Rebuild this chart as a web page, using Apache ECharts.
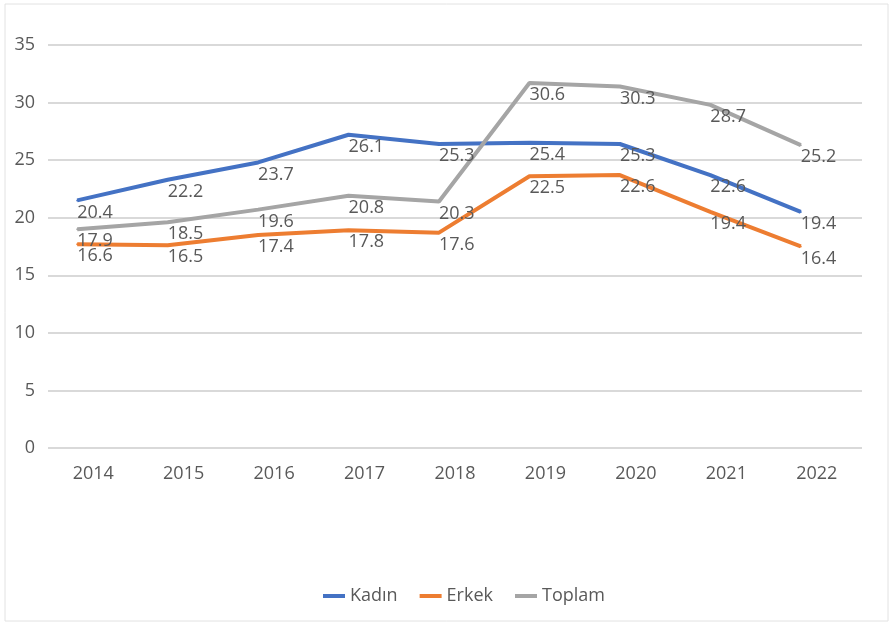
<!DOCTYPE html>
<html><head><meta charset="utf-8">
<script src="https://cdn.jsdelivr.net/npm/echarts@6/dist/echarts.min.js"></script>
<style>html,body{margin:0;padding:0;background:#fff}#c{width:893px;height:627px}</style>
</head><body><div id="c"></div>
<script>
var years = ['2014','2015','2016','2017','2018','2019','2020','2021','2022'];
var kadin  = [20.4, 22.2, 23.7, 26.1, 25.3, 25.4, 25.3, 22.6, 19.4];
var erkek  = [16.6, 16.5, 17.4, 17.8, 17.6, 22.5, 22.6, 19.4, 16.4];
var toplam = [17.9, 18.5, 19.6, 20.8, 20.3, 30.6, 30.3, 28.7, 25.2];
var yTicks = [0, 5, 10, 15, 20, 25, 30, 35];

var FONT = '"Open Sans", "Liberation Sans", sans-serif';
var TXT = '#595959';
var chart = echarts.init(document.getElementById('c'), null, {renderer:'canvas'});
function mk(name, data, color){
  return {
    name: name, type: 'line', data: data, xAxisIndex: 1, yAxisIndex: 1,
    symbol: 'circle', symbolSize: 2, showSymbol: true,
    lineStyle: {width: 4, color: color}, itemStyle: {color: color},
    label: {show: true, position: 'bottom', align: 'left', distance: 2,
      color: TXT, fontSize: 18, fontFamily: FONT,
      formatter: function(p){ return p.value.toFixed(1); }},
    emphasis: {disabled: true}, animation: false
  };
}
chart.setOption({
  animation: false,
  graphic: [{type:'rect', shape:{x:5, y:4, width:883, height:617},
    style:{fill:'none', stroke:'#e2e2e2', lineWidth:1}, silent:true}],
  grid: [
    {left: 48, right: 31, top: 45, bottom: 179},
    {left: 32, right: 47, top: 32.3, bottom: 191.7}
  ],
  xAxis: [
    {type:'category', gridIndex:0, data: years, boundaryGap:true,
     axisLine:{show:false}, axisTick:{show:false},
     axisLabel:{color:TXT, fontSize:18, fontFamily:FONT, margin:17}},
    {type:'category', gridIndex:1, data: years, boundaryGap:true, show:false}
  ],
  yAxis: [
    {type:'value', gridIndex:0, min: yTicks[0], max: yTicks[yTicks.length-1], interval: 5,
     axisLine:{show:false}, axisTick:{show:false},
     splitLine:{lineStyle:{color:'#d9d9d9', width:2}},
     axisLabel:{color:TXT, fontSize:18, fontFamily:FONT, margin:13}},
    {type:'value', gridIndex:1, min: yTicks[0], max: yTicks[yTicks.length-1], show:false, splitLine:{show:false}}
  ],
  legend: {
    top: 582, left: 318, itemWidth: 22, itemHeight: 4, itemGap: 22,
    icon: 'rect', data: ['Kadın','Erkek','Toplam'],
    textStyle: {color: TXT, fontSize: 18, fontFamily: FONT}
  },
  series: [
    mk('Kadın', kadin, '#4472C4'),
    mk('Erkek', erkek, '#ED7D31'),
    mk('Toplam', toplam, '#A5A5A5')
  ]
});
</script></body></html>
